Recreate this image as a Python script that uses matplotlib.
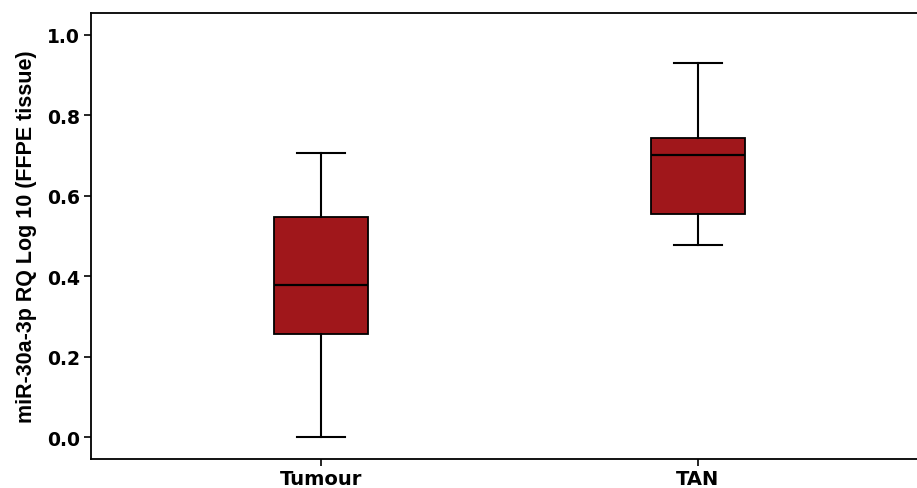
import matplotlib
matplotlib.use("Agg")
import matplotlib.pyplot as plt

# Box statistics
groups = ["Tumour", "TAN"]
whisker_low = [0.0, 0.478]
q1 = [0.256, 0.555]
median = [0.378, 0.701]
q3 = [0.547, 0.744]
whisker_high = [0.706, 0.930]

y_ticks = [0.0, 0.2, 0.4, 0.6, 0.8, 1.0]
y_label = "miR-30a-3p RQ Log 10 (FFPE tissue)"
box_color = "#A0171B"

stats = []
for i, name in enumerate(groups):
    stats.append({
        "label": name,
        "whislo": whisker_low[i],
        "q1": q1[i],
        "med": median[i],
        "q3": q3[i],
        "whishi": whisker_high[i],
        "fliers": [],
    })

fig = plt.figure(figsize=(9.17, 4.89), dpi=100)
ax = fig.add_axes([0.0992, 0.0593, 0.9008, 0.9121])

ax.bxp(
    stats,
    positions=[1, 2],
    widths=0.25,
    patch_artist=True,
    showfliers=False,
    boxprops=dict(facecolor=box_color, edgecolor="black", linewidth=1.3),
    medianprops=dict(color="black", linewidth=1.6),
    whiskerprops=dict(color="black", linewidth=1.5),
    capprops=dict(color="black", linewidth=1.5),
    capwidths=0.125,
)

ax.set_xlim(0.39, 2.581)
ax.set_ylim(-0.0547, 1.0547)
ax.set_yticks(y_ticks)
ax.set_yticklabels([f"{v:.1f}" for v in y_ticks], fontsize=13.5, fontweight="bold",
                   family="DejaVu Sans")
ax.set_xticks([1, 2])
ax.set_xticklabels(groups, fontsize=14, fontweight="bold", family="DejaVu Sans")
ax.set_ylabel(y_label, fontsize=15.5, fontweight="bold",
              family=["Liberation Sans", "DejaVu Sans"], labelpad=7)

ax.spines["right"].set_visible(False)
for s in ["left", "top", "bottom"]:
    ax.spines[s].set_linewidth(1.3)
ax.tick_params(axis="both", direction="out", length=5, width=1.2)
ax.tick_params(axis="x", pad=2)
ax.tick_params(axis="y", pad=3)

fig.savefig("out.png", dpi=100)
